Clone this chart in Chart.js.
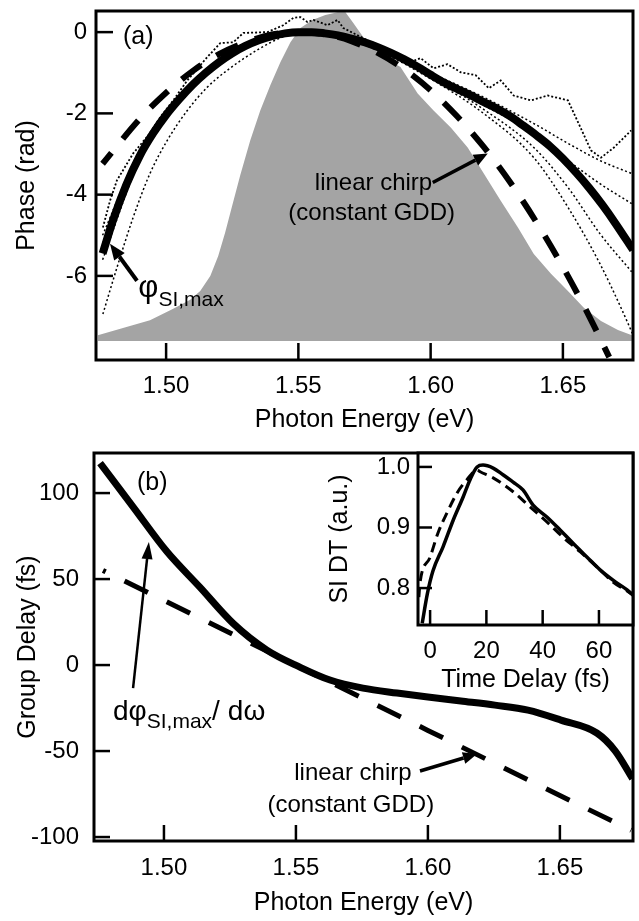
<!DOCTYPE html>
<html lang="en">
<head>
<meta charset="UTF-8">
<title>Spectral phase and group delay</title>
<script src="https://cdn.jsdelivr.net/npm/chart.js"></script>
<style>
  body { margin: 0; background: #fff; }
  #wrap { position: relative; width: 639px; height: 921px; }
  canvas { position: absolute; }
</style>
</head>
<body>
<div id="wrap">
  <canvas id="phaseChart" style="left:0;top:0;width:639px;height:440px" width="639" height="440"></canvas>
  <canvas id="delayChart" style="left:0;top:440px;width:639px;height:481px" width="639" height="481"></canvas>
  <canvas id="insetChart" style="left:320px;top:450px;width:319px;height:250px" width="319" height="250"></canvas>
</div>

<script>
// ---------- (a) spectral phase ----------
const energyTicks = [1.50, 1.55, 1.60, 1.65];
const phaseTicks = [-6, -4, -2, 0];

// gray spectrum outline (filled down to the floor)
const specE = [1.4742, 1.4837, 1.4939, 1.5027, 1.5091, 1.5129, 1.5167, 1.5197, 1.5223, 1.525, 1.528, 1.5318, 1.5356, 1.5394, 1.5432, 1.547, 1.5508, 1.5553, 1.5602, 1.5648, 1.5678, 1.5705, 1.5761, 1.5822, 1.5886, 1.5951, 1.6011, 1.6076, 1.614, 1.6201, 1.6265, 1.633, 1.639, 1.6455, 1.6519, 1.658, 1.6644, 1.6708, 1.6761];
const specPhase = [-7.46, -7.28, -7.09, -6.81, -6.59, -6.37, -6.0, -5.51, -4.94, -4.27, -3.53, -2.67, -1.93, -1.31, -0.74, -0.25, 0.10, 0.30, 0.42, 0.49, 0.49, 0.25, -0.27, -0.62, -0.86, -1.51, -1.93, -2.35, -2.84, -3.48, -4.15, -4.81, -5.46, -5.95, -6.37, -6.79, -7.11, -7.33, -7.46];
const specFloor = -7.6;

// phi_SI,max (thick solid)
const phiE = [1.476, 1.480, 1.485, 1.490, 1.495, 1.500, 1.505, 1.510, 1.515, 1.520, 1.525, 1.530, 1.535, 1.540, 1.545, 1.550, 1.555, 1.560, 1.565, 1.570, 1.575, 1.580, 1.585, 1.590, 1.595, 1.600, 1.605, 1.610, 1.615, 1.620, 1.625, 1.630, 1.635, 1.640, 1.645, 1.650, 1.655, 1.660, 1.665, 1.670, 1.6765];
const phiPhase = [-5.45, -4.62, -3.75, -3.05, -2.50, -2.04, -1.65, -1.30, -1.00, -0.74, -0.52, -0.34, -0.20, -0.10, -0.03, 0.0, 0.0, -0.03, -0.08, -0.16, -0.25, -0.37, -0.51, -0.67, -0.85, -1.05, -1.24, -1.40, -1.55, -1.72, -1.88, -2.07, -2.30, -2.54, -2.80, -3.11, -3.46, -3.84, -4.26, -4.72, -5.36];

// linear chirp (thick dashed)
const chirpE = [1.476, 1.49, 1.50, 1.51, 1.52, 1.53, 1.54, 1.55, 1.56, 1.57, 1.58, 1.59, 1.60, 1.61, 1.62, 1.63, 1.64, 1.65, 1.66, 1.6675];
const chirpPhase = [-3.24, -2.14, -1.49, -0.96, -0.54, -0.25, -0.06, 0.0, -0.05, -0.22, -0.51, -0.91, -1.43, -2.07, -2.82, -3.69, -4.68, -5.78, -7.00, -8.0];

// noisy retrieved phase (dotted)
const measE = [1.4761, 1.4788, 1.4814, 1.4875, 1.4939, 1.4977, 1.5027, 1.508, 1.5155, 1.5205, 1.5254, 1.5292, 1.5383, 1.5443, 1.5481, 1.5508, 1.5534, 1.5557, 1.561, 1.5648, 1.567, 1.5761, 1.586, 1.5924, 1.5962, 1.6011, 1.6064, 1.6114, 1.617, 1.622, 1.6265, 1.6314, 1.6379, 1.6443, 1.6519, 1.6568, 1.6606, 1.6644, 1.6693, 1.6758];
const measPhase = [-4.81, -4.15, -3.65, -2.99, -2.49, -2.10, -1.68, -1.19, -0.62, -0.27, -0.25, -0.02, 0.0, 0.17, 0.35, 0.37, 0.25, 0.30, 0.17, 0.30, 0.10, -0.20, -0.49, -0.74, -0.64, -0.89, -0.79, -0.99, -1.06, -1.38, -1.19, -1.56, -1.68, -1.56, -1.68, -2.37, -2.91, -3.09, -2.84, -2.42];

// other retrieved phases (thin dotted)
const fitSteepE = [1.4761, 1.4814, 1.4875, 1.4939, 1.5004, 1.508, 1.5155, 1.5231, 1.535, 1.545, 1.555, 1.565, 1.58, 1.60, 1.62, 1.639, 1.652, 1.664, 1.672, 1.6765];
const fitSteepPhase = [-6.94, -5.80, -4.57, -3.48, -2.67, -1.93, -1.36, -0.94, -0.42, -0.10, 0.0, -0.10, -0.45, -1.15, -2.0, -3.09, -4.32, -5.70, -6.79, -7.45];
const fitE = [1.476, 1.49, 1.50, 1.52, 1.55, 1.58, 1.60, 1.62, 1.639, 1.652, 1.664, 1.676];
const fitPhaseB = [-5.6, -3.15, -2.10, -0.78, 0.0, -0.40, -1.10, -1.90, -2.84, -3.83, -4.96, -5.90];
const fitPhaseC = [-5.2, -2.98, -1.98, -0.72, 0.0, -0.38, -1.08, -1.80, -2.49, -3.16, -3.73, -4.22];
const fitPhaseD = [-5.0, -2.90, -1.95, -0.70, 0.0, -0.36, -1.00, -1.60, -2.25, -2.74, -3.16, -3.48];

// ---------- (b) group delay ----------
const delayTicks = [-100, -50, 0, 50, 100];
const gdE = [1.4758, 1.4883, 1.5011, 1.5136, 1.5261, 1.539, 1.5515, 1.5629, 1.5754, 1.5883, 1.6, 1.6125, 1.6254, 1.6379, 1.6504, 1.664, 1.671, 1.6775];
const gdFs = [117.4, 92, 66, 45.3, 24.4, 8.7, -1.2, -8.7, -13.4, -16.3, -18.6, -20.9, -23.3, -26.2, -32, -39.5, -50, -66];
const gdChirpE = [1.4769, 1.50, 1.55, 1.60, 1.65, 1.677];
const gdChirpFs = [55, 37.6, -0.2, -38, -75.8, -96.1];

// ---------- inset: SI DT vs time delay ----------
const timeTicks = [0, 20, 40, 60];
const dtTicks = [0.8, 0.9, 1.0];
const dtSolidT = [-2.8, -1.0, 1.0, 4.6, 8.2, 11.7, 14.2, 16.7, 18.8, 22.4, 25.9, 29.5, 33.0, 36.6, 41.6, 46.2, 50.8, 55.8, 60.4, 65.0, 70.0, 73];
const dtSolid = [0.742, 0.790, 0.828, 0.868, 0.912, 0.950, 0.979, 1.0, 1.003, 0.998, 0.987, 0.975, 0.962, 0.937, 0.917, 0.896, 0.874, 0.851, 0.830, 0.813, 0.797, 0.785];
const dtDashT = [-4.0, -3.6, 0, 2.8, 6.0, 9.6, 13.1, 16.7, 17.8, 22.4, 29.5, 35.5, 41.6, 47.2, 53.3, 59.3, 65.0, 71.0, 73];
const dtDash = [0.785, 0.808, 0.851, 0.891, 0.924, 0.957, 0.979, 0.995, 0.992, 0.982, 0.959, 0.934, 0.909, 0.884, 0.860, 0.835, 0.810, 0.792, 0.785];

const FONT = "'Liberation Sans', Arial, Helvetica, sans-serif";
Chart.defaults.font.family = FONT;
Chart.defaults.color = '#000';

const pts = (xs, ys) => xs.map((x, i) => ({x: x, y: ys[i]}));

function line(xs, ys, extra) {
  return Object.assign({
    data: pts(xs, ys),
    borderColor: '#000',
    borderWidth: 1.5,
    pointRadius: 0,
    fill: false,
    cubicInterpolationMode: 'monotone',
    clip: 0
  }, extra);
}

function drawArrow(ctx, x1, y1, x2, y2, w, len, hw) {
  const a = Math.atan2(y2 - y1, x2 - x1);
  const bx = x2 - len * Math.cos(a), by = y2 - len * Math.sin(a);
  ctx.lineWidth = w;
  ctx.beginPath(); ctx.moveTo(x1, y1); ctx.lineTo(bx, by); ctx.stroke();
  ctx.beginPath();
  ctx.moveTo(x2, y2);
  ctx.lineTo(bx + hw / 2 * Math.sin(a), by - hw / 2 * Math.cos(a));
  ctx.lineTo(bx - hw / 2 * Math.sin(a), by + hw / 2 * Math.cos(a));
  ctx.closePath(); ctx.fill();
}

function drawNote(ctx, sx, sy, n) {
  if (n.type === 'arrow') {
    drawArrow(ctx, sx.getPixelForValue(n.from[0]), sy.getPixelForValue(n.from[1]),
      sx.getPixelForValue(n.to[0]), sy.getPixelForValue(n.to[1]), n.width, n.head[0], n.head[1]);
    return;
  }
  const px = sx.getPixelForValue(n.at[0]), py = sy.getPixelForValue(n.at[1]);
  if (n.type === 'text') {
    ctx.font = n.size + 'px ' + FONT;
    ctx.textAlign = n.align || 'center';
    ctx.textBaseline = 'middle';
    ctx.fillText(n.text, px, py);
  } else { // rich text with subscripts, left aligned on a baseline
    let cx = px;
    ctx.textAlign = 'left';
    ctx.textBaseline = 'alphabetic';
    n.parts.forEach(p => {
      ctx.font = p.size + 'px ' + FONT;
      ctx.fillText(p.text, cx, py + (p.dy || 0));
      cx += ctx.measureText(p.text).width + (p.gap || 0);
    });
  }
}

// frame, inward ticks and labels
function decor(opts) {
  return {
    id: 'decor',
    beforeDatasetsDraw(chart) {
      if (!opts.whiteBg) return;
      const a = chart.chartArea, ctx = chart.ctx;
      ctx.save();
      ctx.fillStyle = '#fff';
      ctx.fillRect(a.left, a.top, a.right - a.left, a.bottom - a.top);
      ctx.restore();
    },
    afterDatasetsDraw(chart) {
      const ctx = chart.ctx, a = chart.chartArea, sx = chart.scales.x, sy = chart.scales.y;
      ctx.save();
      ctx.strokeStyle = '#000';
      ctx.fillStyle = '#000';
      ctx.lineWidth = opts.tickWidth;
      sx.ticks.forEach(t => {
        const p = sx.getPixelForValue(t.value);
        ctx.beginPath(); ctx.moveTo(p, a.bottom); ctx.lineTo(p, a.bottom - opts.tickX); ctx.stroke();
      });
      sy.ticks.forEach(t => {
        const p = sy.getPixelForValue(t.value);
        ctx.beginPath(); ctx.moveTo(a.left, p); ctx.lineTo(a.left + opts.tickY, p); ctx.stroke();
      });
      ctx.lineWidth = opts.frameWidth;
      ctx.strokeRect(a.left, a.top, a.right - a.left, a.bottom - a.top);
      (opts.notes || []).forEach(n => drawNote(ctx, sx, sy, n));
      ctx.restore();
    }
  };
}

function axis(o) {
  return {
    type: 'linear',
    min: o.min, max: o.max,
    afterBuildTicks: s => { s.ticks = o.ticks.map(v => ({value: v})); },
    afterFit: s => {
      if (o.width !== undefined) s.width = o.width;
      if (o.height !== undefined) s.height = o.height;
      // the chart area is fixed by layout padding, not by label overhang
      s.paddingTop = 0; s.paddingBottom = 0; s.paddingLeft = 0; s.paddingRight = 0;
    },
    grid: {display: false, drawTicks: false},
    border: {display: false},
    ticks: {
      autoSkip: false, maxRotation: 0, padding: o.pad, color: '#000',
      font: {size: 24},
      callback: o.fmt
    },
    title: {
      display: true, text: o.title, color: '#000',
      font: {size: 25, lineHeight: 1},
      padding: o.titlePad
    }
  };
}

const baseOpts = {
  responsive: false,
  animation: false,
  events: [],
  plugins: {legend: {display: false}, tooltip: {enabled: false}}
};

// ----- chart (a) -----
new Chart(document.getElementById('phaseChart'), {
  type: 'line',
  data: {
    datasets: [
      line(phiE, phiPhase, {borderWidth: 8}),
      line(chirpE, chirpPhase, {borderWidth: 6, borderDash: [24, 18], borderDashOffset: 10}),
      line(measE, measPhase, {borderWidth: 1.8, borderDash: [2, 2], cubicInterpolationMode: 'default', tension: 0}),
      line(fitSteepE, fitSteepPhase, {borderDash: [2, 2.5]}),
      line(fitE, fitPhaseB, {borderDash: [2, 2.5]}),
      line(fitE, fitPhaseC, {borderDash: [2, 2.5]}),
      line(fitE, fitPhaseD, {borderDash: [2, 2.5]}),
      line(specE, specPhase, {borderWidth: 0, borderColor: 'rgba(0,0,0,0)', backgroundColor: '#a4a4a4',
        fill: {value: specFloor}, cubicInterpolationMode: 'default', tension: 0})
    ]
  },
  options: Object.assign({}, baseOpts, {
    layout: {padding: {top: 11, right: 6, left: 0, bottom: 0}},
    scales: {
      x: axis({min: 1.4735, max: 1.6765, ticks: energyTicks, height: 80, pad: 12,
        fmt: v => v.toFixed(2), title: 'Photon Energy (eV)', titlePad: {top: 0, bottom: 7.5}}),
      y: axis({min: -8.07, max: 0.52, ticks: phaseTicks, width: 96, pad: 9,
        fmt: v => String(v), title: 'Phase (rad)', titlePad: {top: 14.5, bottom: 0}})
    }
  }),
  plugins: [decor({
    tickWidth: 2.5, tickX: 17, tickY: 17, frameWidth: 3,
    notes: [
      {type: 'text', at: [1.4837, -0.12], text: '(a)', size: 25, align: 'left'},
      {type: 'arrow', from: [1.489, -6.12], to: [1.4788, -5.21], width: 4, head: [16, 13]},
      {type: 'rich', at: [1.4895, -6.52], parts: [{text: 'φ', size: 31}, {text: 'SI,max', size: 21, dy: 9}]},
      {type: 'text', at: [1.5784, -3.73], text: 'linear chirp', size: 24},
      {type: 'text', at: [1.5777, -4.47], text: '(constant GDD)', size: 24},
      {type: 'arrow', from: [1.6008, -3.70], to: [1.6216, -2.99], width: 3.5, head: [14, 12]}
    ]
  })]
});

// ----- chart (b) -----
new Chart(document.getElementById('delayChart'), {
  type: 'line',
  data: {
    datasets: [
      line(gdE, gdFs, {borderWidth: 7}),
      line(gdChirpE, gdChirpFs, {borderWidth: 5, borderDash: [26, 21], borderDashOffset: 23, cubicInterpolationMode: 'default', tension: 0})
    ]
  },
  options: Object.assign({}, baseOpts, {
    layout: {padding: {top: 13, right: 6, left: 0, bottom: 0}},
    scales: {
      x: axis({min: 1.4735, max: 1.6777, ticks: energyTicks, height: 80, pad: 13,
        fmt: v => v.toFixed(2), title: 'Photon Energy (eV)', titlePad: {top: 0, bottom: 5.5}}),
      y: axis({min: -102.3, max: 123.3, ticks: delayTicks, width: 94, pad: 15,
        fmt: v => String(v), title: 'Group Delay (fs)', titlePad: {top: 15.5, bottom: 0}})
    }
  }),
  plugins: [decor({
    tickWidth: 2.5, tickX: 16, tickY: 16, frameWidth: 3,
    notes: [
      {type: 'text', at: [1.4898, 105.8], text: '(b)', size: 25, align: 'left'},
      {type: 'arrow', from: [1.4883, -13.4], to: [1.4943, 71.5], width: 2.5, head: [17, 11]},
      {type: 'rich', at: [1.4807, -32], parts: [
        {text: 'dφ', size: 28}, {text: 'SI,max', size: 21, dy: 8}, {text: '/', size: 28, gap: 8}, {text: 'dω', size: 28}]},
      {type: 'text', at: [1.5716, -62.8], text: 'linear chirp', size: 24},
      {type: 'text', at: [1.5708, -81.4], text: '(constant GDD)', size: 24},
      {type: 'arrow', from: [1.597, -61.6], to: [1.6186, -51.7], width: 3.5, head: [14, 12]}
    ]
  })]
});

// ----- inset -----
new Chart(document.getElementById('insetChart'), {
  type: 'line',
  data: {
    datasets: [
      line(dtSolidT, dtSolid, {borderWidth: 3.5}),
      line(dtDashT, dtDash, {borderWidth: 3, borderDash: [10, 6]})
    ]
  },
  options: Object.assign({}, baseOpts, {
    layout: {padding: {top: 3, right: 6, left: 0, bottom: 0}},
    scales: {
      x: axis({min: -4.3, max: 72.1, ticks: timeTicks, height: 75, pad: 12,
        fmt: v => String(v), title: 'Time Delay (fs)', titlePad: {top: 0, bottom: 7.5}}),
      y: axis({min: 0.739, max: 1.023, ticks: dtTicks, width: 98, pad: 8,
        fmt: v => v.toFixed(1), title: 'SI DT (a.u.)', titlePad: {top: 7.5, bottom: 0}})
    }
  }),
  plugins: [decor({tickWidth: 2.5, tickX: 15, tickY: 14, frameWidth: 3, whiteBg: true})]
});
</script>
</body>
</html>
